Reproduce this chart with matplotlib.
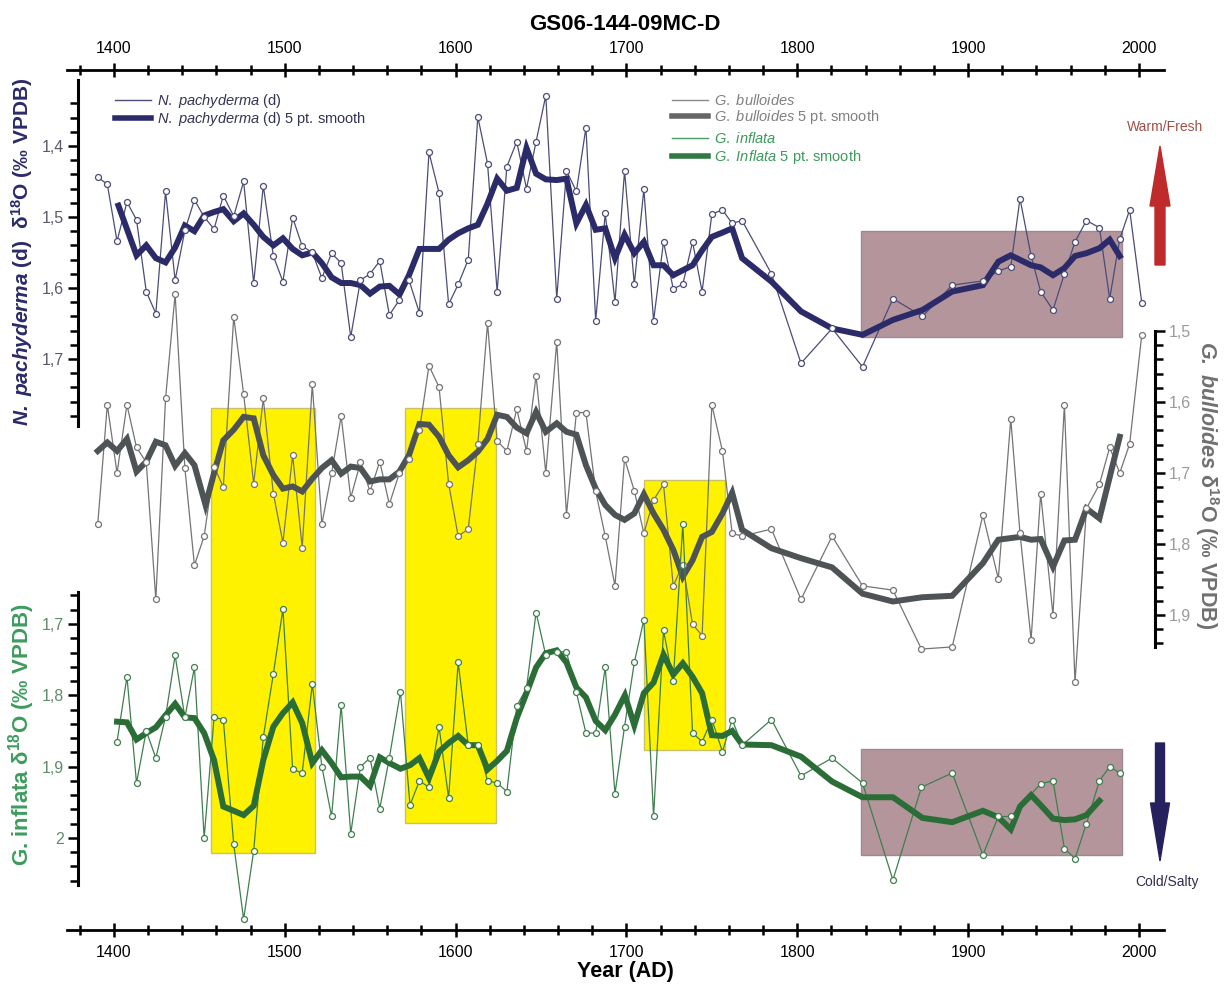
import numpy as np
import matplotlib
matplotlib.use("Agg")
import matplotlib.pyplot as plt
from matplotlib.lines import Line2D
from matplotlib.patches import Rectangle, FancyArrow
from matplotlib.ticker import FixedLocator
from matplotlib.transforms import IdentityTransform

plt.rcParams['font.family'] = ['Liberation Sans', 'DejaVu Sans']
plt.rcParams['mathtext.fontset'] = 'custom'
plt.rcParams['mathtext.rm'] = 'Liberation Sans'
plt.rcParams['mathtext.it'] = 'Liberation Sans:italic'
plt.rcParams['mathtext.bf'] = 'Liberation Sans:bold'
plt.rcParams['mathtext.bfit'] = 'Liberation Sans:italic:bold'

# ---- N. pachyderma (d) d18O ----
pachy_years = [1390.5, 1396.1, 1401.8, 1407.6, 1413.2, 1418.9, 1424.5, 1430.2, 1435.8, 1441.5,
               1447.1, 1452.8, 1458.6, 1464.0, 1470.1, 1475.9, 1481.8, 1487.4, 1493.3, 1498.9,
               1504.6, 1510.2, 1516.1, 1521.7, 1527.4, 1533.0, 1538.6, 1544.3, 1549.9, 1555.6,
               1561.2, 1567.1, 1572.7, 1578.8, 1584.4, 1590.3, 1595.9, 1601.5, 1607.4, 1613.0,
               1618.7, 1624.3, 1630.0, 1635.8, 1641.5, 1647.1, 1652.8, 1659.2, 1664.9, 1670.7,
               1676.3, 1682.0, 1687.6, 1693.3, 1698.9, 1704.6, 1710.2, 1715.9, 1721.7, 1727.4,
               1733.0, 1738.7, 1744.3, 1750.0, 1756.2, 1761.9, 1767.7, 1784.9, 1802.2, 1820.4,
               1838.2, 1856.0, 1873.3, 1890.7, 1908.7, 1917.7, 1925.0, 1930.4, 1936.9, 1942.5,
               1949.7, 1956.4, 1962.6, 1969.3, 1976.9, 1982.9, 1988.8, 1994.6, 2001.7]
pachy_d18o = [1.444, 1.454, 1.534, 1.479, 1.504, 1.605, 1.636, 1.464, 1.589, 1.519,
              1.476, 1.500, 1.517, 1.470, 1.499, 1.450, 1.593, 1.456, 1.555, 1.591,
              1.501, 1.541, 1.550, 1.586, 1.551, 1.565, 1.669, 1.589, 1.580, 1.562,
              1.638, 1.617, 1.589, 1.635, 1.409, 1.466, 1.623, 1.595, 1.560, 1.359,
              1.425, 1.605, 1.429, 1.394, 1.460, 1.394, 1.329, 1.615, 1.435, 1.464,
              1.374, 1.646, 1.495, 1.620, 1.435, 1.595, 1.461, 1.646, 1.535, 1.601,
              1.595, 1.535, 1.605, 1.496, 1.490, 1.509, 1.505, 1.580, 1.706, 1.657,
              1.711, 1.615, 1.640, 1.596, 1.590, 1.576, 1.570, 1.474, 1.555, 1.605,
              1.631, 1.580, 1.535, 1.505, 1.515, 1.615, 1.531, 1.490, 1.621]

pachy_sm_years = [1402.6, 1413.2, 1418.9, 1424.5, 1430.2, 1435.8, 1441.5, 1447.1, 1452.8, 1458.6,
                  1464.0, 1470.1, 1475.9, 1481.8, 1487.4, 1493.3, 1498.9, 1504.6, 1510.2, 1516.1,
                  1521.7, 1527.4, 1533.0, 1538.6, 1544.3, 1549.9, 1555.6, 1561.2, 1567.1, 1572.7,
                  1578.8, 1584.4, 1590.3, 1595.9, 1601.5, 1607.4, 1613.0, 1618.7, 1624.3, 1630.0,
                  1635.8, 1641.5, 1647.1, 1652.8, 1659.2, 1664.9, 1670.7, 1676.3, 1682.0, 1687.6,
                  1693.3, 1698.9, 1704.6, 1710.2, 1715.9, 1721.7, 1727.4, 1733.0, 1738.7, 1744.3,
                  1750.0, 1756.2, 1761.9, 1767.7, 1784.9, 1802.2, 1820.4, 1838.2, 1856.0, 1873.3,
                  1890.7, 1908.7, 1917.7, 1925.0, 1936.9, 1942.5, 1949.7, 1956.4, 1962.6, 1969.3,
                  1976.9, 1982.9, 1988.8]
pachy_sm = [1.484, 1.554, 1.540, 1.558, 1.564, 1.543, 1.512, 1.520, 1.498, 1.493,
            1.489, 1.506, 1.495, 1.511, 1.528, 1.540, 1.530, 1.545, 1.554, 1.550,
            1.565, 1.585, 1.593, 1.593, 1.596, 1.608, 1.598, 1.597, 1.609, 1.582,
            1.545, 1.545, 1.545, 1.532, 1.523, 1.516, 1.511, 1.481, 1.446, 1.463,
            1.459, 1.403, 1.439, 1.447, 1.448, 1.446, 1.509, 1.483, 1.518, 1.516,
            1.558, 1.525, 1.551, 1.535, 1.568, 1.568, 1.582, 1.575, 1.568, 1.547,
            1.528, 1.522, 1.516, 1.558, 1.591, 1.633, 1.657, 1.666, 1.645, 1.631,
            1.605, 1.596, 1.563, 1.554, 1.568, 1.571, 1.582, 1.572, 1.555, 1.551,
            1.544, 1.532, 1.555]

# ---- G. bulloides d18O ----
bull_years = [1390.5, 1396.1, 1401.8, 1407.6, 1413.2, 1418.9, 1424.5, 1430.2, 1435.8, 1441.5,
              1447.1, 1452.8, 1458.6, 1464.0, 1470.1, 1475.9, 1481.8, 1487.4, 1493.3, 1498.9,
              1504.6, 1510.2, 1516.1, 1521.7, 1527.4, 1533.0, 1538.6, 1544.3, 1549.9, 1555.6,
              1561.2, 1567.1, 1572.7, 1578.8, 1584.4, 1590.3, 1595.9, 1601.5, 1607.4, 1613.0,
              1618.7, 1624.3, 1630.0, 1635.8, 1641.5, 1647.1, 1652.8, 1659.2, 1664.9, 1670.7,
              1676.3, 1682.0, 1687.6, 1693.3, 1698.9, 1704.6, 1710.2, 1715.9, 1721.7, 1727.4,
              1733.0, 1738.7, 1744.3, 1750.0, 1756.2, 1761.9, 1767.7, 1784.9, 1802.2, 1820.4,
              1838.2, 1856.0, 1872.7, 1890.7, 1908.7, 1917.7, 1925.0, 1930.4, 1936.9, 1942.5,
              1949.7, 1956.4, 1962.6, 1969.3, 1976.9, 1982.9, 1988.8, 1994.6, 2001.7]
bull_d18o = [1.772, 1.604, 1.700, 1.604, 1.664, 1.685, 1.878, 1.595, 1.448, 1.693,
             1.830, 1.789, 1.691, 1.720, 1.480, 1.589, 1.715, 1.595, 1.729, 1.798,
             1.675, 1.805, 1.575, 1.772, 1.700, 1.620, 1.735, 1.685, 1.726, 1.684,
             1.744, 1.700, 1.680, 1.640, 1.549, 1.579, 1.715, 1.789, 1.779, 1.659,
             1.489, 1.655, 1.669, 1.610, 1.669, 1.563, 1.700, 1.515, 1.759, 1.615,
             1.615, 1.726, 1.789, 1.859, 1.680, 1.725, 1.785, 1.738, 1.716, 1.859,
             1.829, 1.913, 1.929, 1.604, 1.669, 1.785, 1.789, 1.779, 1.878, 1.789,
             1.859, 1.865, 1.948, 1.945, 1.759, 1.849, 1.624, 1.785, 1.935, 1.729,
             1.900, 1.604, 1.995, 1.750, 1.716, 1.664, 1.700, 1.659, 1.505]

bull_sm_years = [1390.5, 1396.1, 1401.8, 1407.6, 1413.2, 1418.9, 1424.5, 1430.2, 1435.8, 1441.5,
                 1447.1, 1453.6, 1458.6, 1464.0, 1470.1, 1475.9, 1481.8, 1487.4, 1493.3, 1498.9,
                 1504.6, 1510.2, 1516.1, 1521.7, 1527.4, 1533.0, 1538.6, 1544.3, 1549.9, 1555.6,
                 1561.2, 1567.1, 1572.7, 1578.8, 1584.4, 1590.3, 1595.9, 1601.5, 1607.4, 1613.0,
                 1618.7, 1624.3, 1630.0, 1635.8, 1641.5, 1647.1, 1652.8, 1659.2, 1664.9, 1670.7,
                 1676.3, 1682.0, 1687.6, 1693.3, 1698.9, 1704.6, 1710.2, 1715.9, 1721.7, 1727.4,
                 1733.0, 1738.7, 1744.3, 1750.0, 1756.2, 1761.9, 1767.7, 1784.9, 1802.2, 1820.4,
                 1838.2, 1856.0, 1873.3, 1890.7, 1908.7, 1917.7, 1930.4, 1936.9, 1942.5, 1949.7,
                 1956.4, 1962.6, 1969.3, 1976.9, 1988.8]
bull_sm = [1.669, 1.657, 1.669, 1.652, 1.698, 1.684, 1.656, 1.661, 1.690, 1.672,
           1.689, 1.745, 1.700, 1.654, 1.639, 1.621, 1.623, 1.675, 1.703, 1.722,
           1.719, 1.726, 1.708, 1.693, 1.682, 1.701, 1.691, 1.693, 1.712, 1.709,
           1.709, 1.698, 1.675, 1.631, 1.632, 1.649, 1.675, 1.692, 1.682, 1.670,
           1.652, 1.618, 1.621, 1.636, 1.644, 1.614, 1.642, 1.630, 1.642, 1.646,
           1.689, 1.722, 1.745, 1.759, 1.766, 1.757, 1.730, 1.757, 1.780, 1.808,
           1.846, 1.823, 1.790, 1.783, 1.757, 1.728, 1.780, 1.806, 1.820, 1.833,
           1.870, 1.881, 1.875, 1.873, 1.827, 1.794, 1.790, 1.794, 1.793, 1.832,
           1.795, 1.794, 1.750, 1.764, 1.649]

# ---- G. inflata d18O ----
infl_years = [1401.8, 1407.6, 1413.2, 1418.9, 1424.5, 1430.2, 1435.8, 1441.5, 1447.1, 1452.8,
              1458.6, 1464.0, 1470.1, 1475.9, 1481.8, 1487.4, 1493.3, 1498.9, 1504.6, 1510.2,
              1516.1, 1521.7, 1527.4, 1533.0, 1538.6, 1544.3, 1549.9, 1555.6, 1561.2, 1567.7,
              1573.3, 1578.8, 1584.4, 1590.3, 1595.9, 1601.5, 1607.4, 1613.0, 1618.7, 1624.3,
              1630.0, 1635.8, 1641.5, 1647.1, 1652.8, 1659.2, 1664.9, 1670.7, 1676.3, 1682.0,
              1687.6, 1693.3, 1698.9, 1704.6, 1710.2, 1715.9, 1721.7, 1727.4, 1733.0, 1738.7,
              1744.3, 1750.0, 1756.2, 1761.9, 1767.7, 1784.9, 1802.2, 1820.4, 1838.2, 1856.0,
              1872.7, 1890.7, 1908.7, 1917.7, 1925.0, 1942.5, 1949.7, 1956.4, 1962.6, 1969.3,
              1976.9, 1982.9, 1988.8]
infl_d18o = [1.865, 1.774, 1.923, 1.850, 1.888, 1.830, 1.744, 1.831, 1.761, 2.000,
             1.831, 1.834, 2.009, 2.114, 2.018, 1.859, 1.770, 1.679, 1.904, 1.909,
             1.784, 1.900, 1.970, 1.814, 1.994, 1.900, 1.888, 1.959, 1.888, 1.795,
             1.954, 1.920, 1.929, 1.844, 1.944, 1.754, 1.870, 1.870, 1.920, 1.923,
             1.935, 1.815, 1.790, 1.684, 1.744, 1.739, 1.739, 1.796, 1.853, 1.853,
             1.761, 1.938, 1.844, 1.754, 1.694, 1.970, 1.709, 1.780, 1.560, 1.853,
             1.865, 1.834, 1.879, 1.834, 1.870, 1.834, 1.913, 1.888, 1.923, 2.059,
             1.929, 1.909, 2.024, 1.970, 1.970, 1.924, 1.920, 2.015, 2.029, 1.980,
             1.920, 1.900, 1.909]

infl_sm_years = [1401.8, 1407.6, 1413.2, 1418.9, 1424.5, 1430.2, 1435.8, 1441.5, 1447.1, 1452.8,
                 1458.6, 1464.0, 1470.1, 1475.9, 1481.8, 1487.4, 1493.3, 1498.9, 1504.6, 1510.2,
                 1516.1, 1521.7, 1527.4, 1533.0, 1538.6, 1544.3, 1549.9, 1555.6, 1561.2, 1567.7,
                 1573.3, 1578.8, 1584.4, 1590.3, 1595.9, 1601.5, 1607.4, 1613.0, 1618.7, 1624.3,
                 1630.0, 1635.8, 1641.5, 1647.1, 1652.8, 1659.2, 1664.9, 1670.7, 1676.3, 1682.0,
                 1687.6, 1693.1, 1699.1, 1704.6, 1710.2, 1715.9, 1721.7, 1727.4, 1733.0, 1738.7,
                 1744.3, 1750.0, 1756.2, 1761.9, 1767.7, 1784.9, 1802.2, 1820.4, 1838.2, 1856.0,
                 1873.3, 1890.7, 1908.7, 1917.7, 1925.0, 1930.4, 1936.9, 1942.5, 1949.7, 1956.4,
                 1962.6, 1969.3, 1976.9]
infl_sm = [1.837, 1.838, 1.862, 1.853, 1.845, 1.828, 1.812, 1.831, 1.832, 1.853,
           1.891, 1.956, 1.962, 1.968, 1.955, 1.891, 1.844, 1.825, 1.810, 1.839,
           1.895, 1.877, 1.895, 1.915, 1.914, 1.914, 1.927, 1.887, 1.895, 1.903,
           1.898, 1.888, 1.916, 1.879, 1.867, 1.857, 1.870, 1.870, 1.904, 1.892,
           1.878, 1.832, 1.797, 1.761, 1.741, 1.737, 1.754, 1.789, 1.803, 1.836,
           1.849, 1.828, 1.800, 1.842, 1.797, 1.782, 1.743, 1.771, 1.755, 1.774,
           1.797, 1.856, 1.857, 1.850, 1.869, 1.870, 1.886, 1.921, 1.943, 1.943,
           1.972, 1.978, 1.962, 1.971, 1.988, 1.956, 1.940, 1.954, 1.973, 1.975,
           1.974, 1.968, 1.948]

# shaded intervals (years); yellow: top in bulloides units, bottom in inflata units
yellow_start = [1456.8, 1570.5, 1710.2]
yellow_end = [1517.7, 1623.9, 1757.7]
yellow_top_bull = [1.608, 1.608, 1.710]
yellow_bottom_infl = [2.021, 1.979, 1.877]
# purple box: same years for both, upper one in pachyderma units, lower one in inflata units
purple_start, purple_end = 1837.2, 1990.2
purple_pachy = (1.520, 1.669)
purple_infl = (1.876, 2.024)

year_ticks = [1400, 1500, 1600, 1700, 1800, 1900, 2000]
year_minor = list(range(1380, 2014, 20))
pachy_ticks = [1.4, 1.5, 1.6, 1.7]
pachy_labels = ['1,4', '1,5', '1,6', '1,7']
bull_ticks = [1.5, 1.6, 1.7, 1.8, 1.9]
bull_labels = ['1,5', '1,6', '1,7', '1,8', '1,9']
infl_ticks = [1.7, 1.8, 1.9, 2.0]
infl_labels = ['1,7', '1,8', '1,9', '2']

c_pachy, c_pachy_raw = '#2c2b6a', '#4b4c78'
c_bull, c_bull_raw = '#4e5456', '#747474'
c_infl, c_infl_raw = '#2a6d36', '#3f7f4e'

W, H = 1228, 985
fig = plt.figure(figsize=(W / 100, H / 100), dpi=100)
rect = [67 / W, 1 - 930 / H, (1164 - 67) / W, (930 - 70) / H]

# base axes: year axis on top and bottom
ax = fig.add_axes(rect)
ax.set_ylim(0, 1)
ax.set_yticks([])
for side in ('left', 'right', 'top'):
    ax.spines[side].set_visible(False)
ax.spines['bottom'].set_linewidth(2)
ax.xaxis.set_major_locator(FixedLocator(year_ticks))
ax.xaxis.set_minor_locator(FixedLocator(year_minor))
ax.tick_params(axis='x', which='both', direction='inout', width=1.8, colors='black',
               labelsize=11.5, pad=6, labelfontfamily=['Liberation Sans Narrow', 'Liberation Sans'])
ax.tick_params(axis='x', which='major', length=10)
ax.tick_params(axis='x', which='minor', length=7)

top = ax.secondary_xaxis('top')
top.spines['top'].set_linewidth(2)
top.xaxis.set_major_locator(FixedLocator(year_ticks))
top.xaxis.set_minor_locator(FixedLocator(year_minor))
top.tick_params(axis='x', which='both', direction='inout', width=1.8, labelsize=11.5, pad=5)
top.tick_params(axis='x', which='major', length=10)
top.tick_params(axis='x', which='minor', length=7)


def series_axes():
    a = fig.add_axes(rect, sharex=ax)
    a.patch.set_visible(False)
    a.xaxis.set_visible(False)
    for s in a.spines.values():
        s.set_visible(False)
    return a


ax_b = series_axes()
ax_i = series_axes()
ax_p = series_axes()


def draw_series(a, yrs, vals, sm_yrs, sm_vals, col, col_raw):
    a.plot(yrs, vals, '-', color=col_raw, lw=0.9, zorder=2)
    a.plot(sm_yrs, sm_vals, '-', color=col, lw=4.3, zorder=3, solid_joinstyle='miter')
    a.plot(yrs, vals, linestyle='none', marker='o', ms=4.3, mfc='white', mec=col_raw,
           mew=0.9, zorder=4)


draw_series(ax_b, bull_years, bull_d18o, bull_sm_years, bull_sm, c_bull, c_bull_raw)
draw_series(ax_i, infl_years, infl_d18o, infl_sm_years, infl_sm, c_infl, c_infl_raw)
draw_series(ax_p, pachy_years, pachy_d18o, pachy_sm_years, pachy_sm, c_pachy, c_pachy_raw)

ax.set_xlim(1372.5, 2014.7)
ax_p.set_ylim(2.5042, 1.2930)
ax_b.set_ylim(2.3437, 1.1324)
ax_i.set_ylim(2.1292, 0.9230)

# shaded boxes go on the base axes so every curve sits on top of them
for x0, x1, t, b in zip(yellow_start, yellow_end, yellow_top_bull, yellow_bottom_infl):
    disp = ax_i.transData.transform((x0, b))
    b_bull = ax_b.transData.inverted().transform(disp)[1]
    ax.add_patch(Rectangle((x0, t), x1 - x0, b_bull - t, transform=ax_b.transData,
                           facecolor='#fff200', edgecolor='#c9c26a', lw=1))
ax.add_patch(Rectangle((purple_start, purple_pachy[0]), purple_end - purple_start,
                       purple_pachy[1] - purple_pachy[0], transform=ax_p.transData,
                       facecolor='#b4959c', edgecolor='#a08890', lw=1))
ax.add_patch(Rectangle((purple_start, purple_infl[0]), purple_end - purple_start,
                       purple_infl[1] - purple_infl[0], transform=ax_i.transData,
                       facecolor='#b4959c', edgecolor='#a08890', lw=1))
ax.set_xlim(1372.5, 2014.7)
ax.set_ylim(0, 1)


def style_yaxis(a, side, xpos, bounds, ticks, labels, minor, tick_color):
    sp = a.spines[side]
    sp.set_visible(True)
    sp.set_linewidth(2.2)
    sp.set_position(('data', xpos))
    sp.set_bounds(*bounds)
    if side == 'left':
        a.yaxis.tick_left()
    else:
        a.yaxis.tick_right()
    a.set_yticks(ticks)
    a.set_yticklabels(labels)
    a.yaxis.set_minor_locator(FixedLocator(minor))
    a.tick_params(axis='y', which='both', direction='out', width=1.8, labelsize=11.5,
                  labelcolor=tick_color, pad=3)
    a.tick_params(axis='y', which='major', length=7)
    a.tick_params(axis='y', which='minor', length=6)


style_yaxis(ax_p, 'left', 1378.9, (1.307, 1.794), pachy_ticks, pachy_labels,
            np.arange(1.34, 1.785, 0.02), '#5a5a6a')
style_yaxis(ax_i, 'left', 1378.9, (1.655, 2.066), infl_ticks, infl_labels,
            np.arange(1.66, 2.065, 0.02), '#5f8c6c')
style_yaxis(ax_b, 'right', 2009.5, (1.5, 1.945), bull_ticks, bull_labels,
            np.arange(1.50, 1.945, 0.02), '#9a9a9a')

# axis titles
fig.text(625 / W, 1 - 25 / H, 'GS06-144-09MC-D', ha='center', va='center',
         fontsize=16, fontweight='bold')
fig.text(625 / W, 1 - 972 / H, 'Year (AD)', ha='center', va='center',
         fontsize=15.5, fontweight='bold')
fig.text(22 / W, 1 - 252 / H,
         r'$\mathbfit{N.\ pachyderma}$ (d)  δ$^{\mathbf{18}}$O (‰ VPDB)',
         rotation=90, ha='center', va='center', fontsize=15, fontweight='bold',
         color='#2b2a6a')
fig.text(22 / W, 1 - 735 / H, r'G. inflata δ$^{\mathbf{18}}$O (‰ VPDB)',
         rotation=90, ha='center', va='center', fontsize=16, fontweight='bold',
         color='#3d9c5e')
fig.text(1207 / W, 1 - 485 / H,
         r'$\mathbfit{G.\ bulloides}$ δ$^{\mathbf{18}}$O (‰ VPDB)',
         rotation=270, ha='center', va='center', fontsize=15.5, fontweight='bold',
         color='#707070')

# legends
leg_kw = dict(loc='upper left', bbox_transform=fig.transFigure, frameon=False, fontsize=10.5,
              handlelength=2.5, handletextpad=0.35, labelspacing=0.02, borderpad=0,
              borderaxespad=0)
h_p = [Line2D([], [], color=c_pachy_raw, lw=1), Line2D([], [], color=c_pachy, lw=4)]
leg1 = ax.legend(h_p, [r'$\it{N.\ pachyderma}$ (d)', r'$\it{N.\ pachyderma}$ (d) 5 pt. smooth'],
                 bbox_to_anchor=(115 / W, 1 - 92 / H), labelcolor='#333355', **leg_kw)
ax.add_artist(leg1)
h_b = [Line2D([], [], color='#8a8a8a', lw=1), Line2D([], [], color='#666666', lw=4)]
leg2 = ax.legend(h_b, [r'$\it{G.\ bulloides}$', r'$\it{G.\ bulloides}$ 5 pt. smooth'],
                 bbox_to_anchor=(672 / W, 1 - 93 / H), labelcolor='#808080', **leg_kw)
ax.add_artist(leg2)
h_i = [Line2D([], [], color='#4a9a62', lw=1), Line2D([], [], color='#2f7a42', lw=4)]
ax.legend(h_i, [r'$\it{G.\ inflata}$', r'$\it{G.\ Inflata}$ 5 pt. smooth'],
          bbox_to_anchor=(672 / W, 1 - 131 / H), labelcolor='#3a9a5a',
          **{**leg_kw, 'labelspacing': 0.15})

# warm / cold arrows
fig.add_artist(FancyArrow(1160, H - 265, 0, 265 - 146, width=10, head_width=20,
                          head_length=60, length_includes_head=True, color='#bf2b2b',
                          transform=IdentityTransform()))
fig.add_artist(FancyArrow(1160, H - 743, 0, -(861 - 743), width=9, head_width=19,
                          head_length=58, length_includes_head=True, color='#26215e',
                          transform=IdentityTransform()))
fig.text(1165 / W, 1 - 127 / H, 'Warm/Fresh', ha='center', va='center', fontsize=10,
         color='#a24e46')
fig.text(1167 / W, 1 - 882 / H, 'Cold/Salty', ha='center', va='center', fontsize=10,
         color='#2e2e50')

fig.savefig('out.png', dpi=100)
